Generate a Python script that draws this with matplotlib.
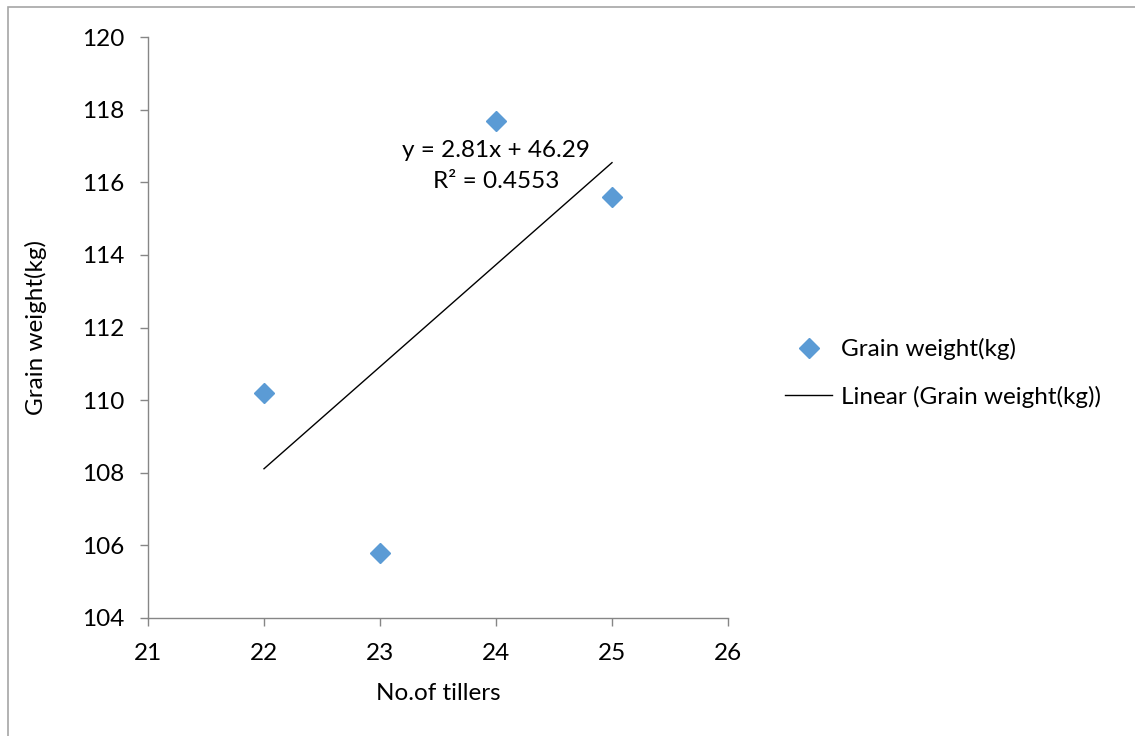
import matplotlib
matplotlib.use("Agg")
import matplotlib.pyplot as plt
import numpy as np
from matplotlib.patches import Rectangle

plt.rcParams['font.family'] = ['Lato', 'DejaVu Sans']

tillers = [22, 23, 24, 25]
grain_weight = [110.2, 105.8, 117.7, 115.6]
slope, intercept = 2.81, 46.29
r2 = 0.4553
xticks = [21, 22, 23, 24, 25, 26]
yticks = [104, 106, 108, 110, 112, 114, 116, 118, 120]

W, H = 1135, 736
fig = plt.figure(figsize=(W / 100, H / 100), dpi=100)
ax = fig.add_axes([148 / W, 1 - 618 / H, (728 - 148) / W, (618 - 37) / H])

blue = '#5B9BD5'
gray = '#868686'
fs = 17.5

sc, = ax.plot(tillers, grain_weight, linestyle='none', marker='D', markersize=10,
              color=blue, label='Grain weight(kg)')
tx = np.array([min(tillers), max(tillers)])
ln, = ax.plot(tx, slope * tx + intercept, color='black', linewidth=1,
              label='Linear (Grain weight(kg))')

ax.set_xlim(21, 26)
ax.set_ylim(104, 120)
ax.set_xticks(xticks)
ax.set_yticks(yticks)
ax.tick_params(axis='both', direction='out', length=6, width=1, color=gray,
               labelsize=fs)
ax.tick_params(axis='y', pad=11)
ax.tick_params(axis='x', pad=12)
for s in ['top', 'right']:
    ax.spines[s].set_visible(False)
for s in ['left', 'bottom']:
    ax.spines[s].set_color(gray)
    ax.spines[s].set_linewidth(1)

ax.set_xlabel('No.of tillers', fontsize=fs, labelpad=14)
ax.set_ylabel('Grain weight(kg)', fontsize=fs, labelpad=25)

ax.text(24.0, 116.45, f'y = {slope}x + {intercept}\nR² = {r2}', ha='center',
        va='center', fontsize=fs, linespacing=1.6)

fig.legend(handles=[sc, ln], loc='center left',
           bbox_to_anchor=(763 / W, 1 - 373 / H), frameon=False, fontsize=fs,
           handlelength=1.95, handletextpad=0.35, labelspacing=1.05)

fig.patches.append(Rectangle((8 / W, -0.1), 1.2, 1 - 7 / H + 0.1,
                             transform=fig.transFigure, fill=False,
                             edgecolor='#A6A6A6', linewidth=1.2))

fig.savefig('out.png', dpi=100)
